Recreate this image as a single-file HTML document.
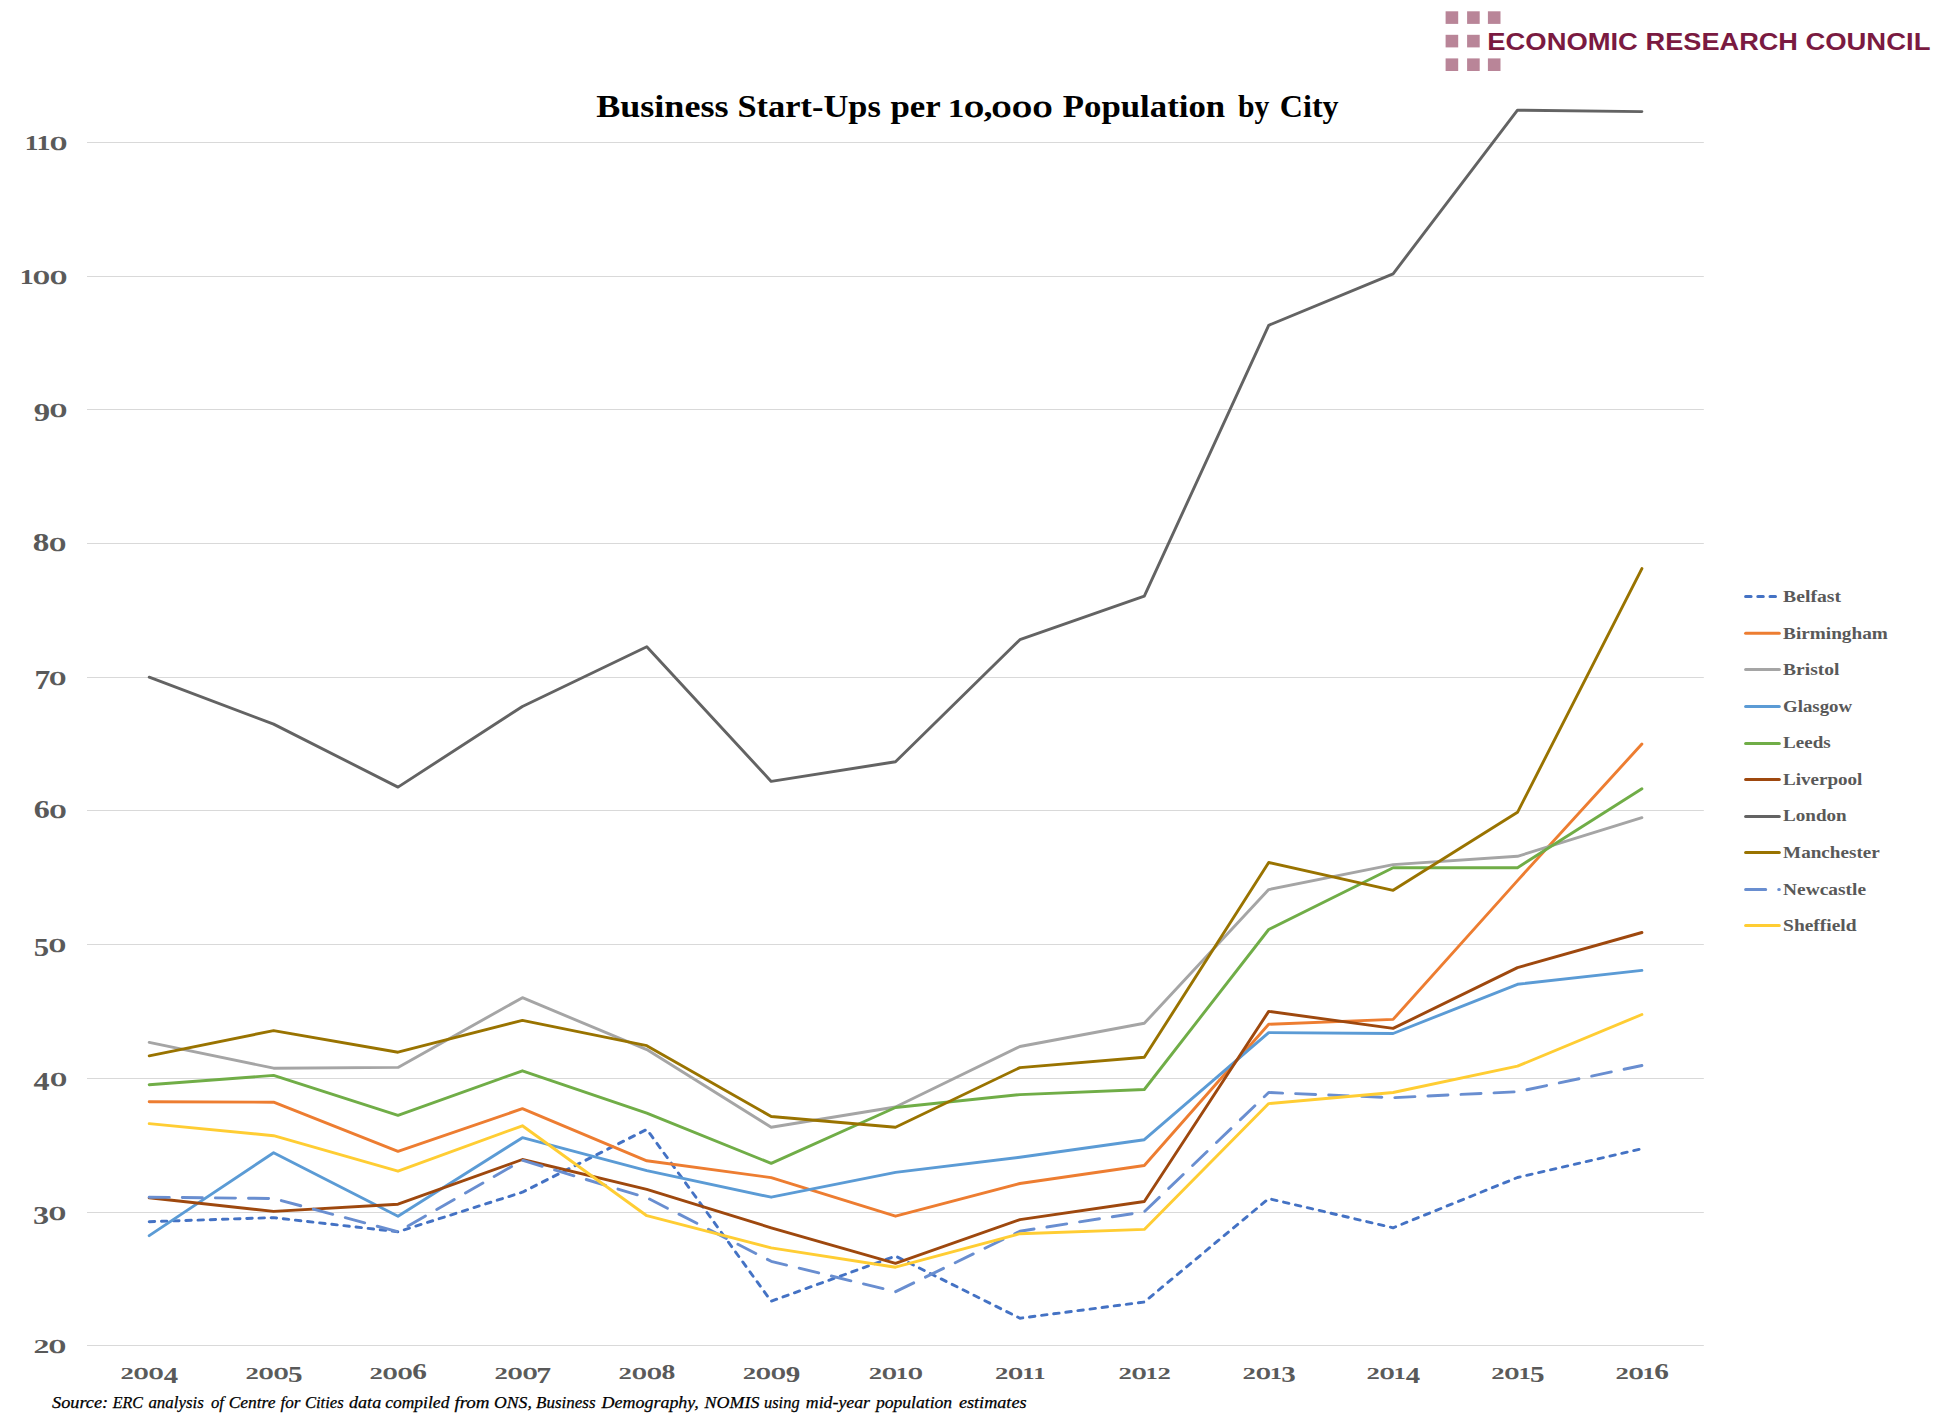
<!DOCTYPE html>
<html lang="en"><head><meta charset="utf-8"><title>Business Start-Ups per 10,000 Population by City</title>
<style>
html,body{margin:0;padding:0;background:#fff;}
body{width:1943px;height:1421px;overflow:hidden;}
svg{display:block;}
.sb{font-family:"Liberation Serif",serif;font-weight:bold;}
.si{font-family:"Liberation Serif",serif;font-style:italic;}
.ax{fill:#595959;stroke:#595959;stroke-width:0;}
.tt{fill:#000;stroke:#000;stroke-width:0;}
.z{font-weight:normal;}
.logo{font-family:"Liberation Sans",sans-serif;font-weight:bold;fill:#7A1A41;}
</style></head><body>
<svg width="1943" height="1421" viewBox="0 0 1943 1421">
<rect width="1943" height="1421" fill="#fff"/>
<g fill="#D9D9D9"><rect x="87.0" y="1345" width="1616.8" height="1"/><rect x="87.0" y="1212" width="1616.8" height="1"/><rect x="87.0" y="1078" width="1616.8" height="1"/><rect x="87.0" y="944" width="1616.8" height="1"/><rect x="87.0" y="810" width="1616.8" height="1"/><rect x="87.0" y="677" width="1616.8" height="1"/><rect x="87.0" y="543" width="1616.8" height="1"/><rect x="87.0" y="409" width="1616.8" height="1"/><rect x="87.0" y="276" width="1616.8" height="1"/><rect x="87.0" y="142" width="1616.8" height="1"/></g>
<g fill="none" stroke-linejoin="round" stroke-linecap="round"><polyline points="149.2,1221.7 273.6,1217.6 398.0,1231.8 522.4,1192.2 646.8,1129.4 771.2,1301.2 895.5,1256.1 1019.9,1318.2 1144.3,1302.0 1268.7,1198.6 1393.1,1227.8 1517.5,1177.5 1641.9,1148.7" stroke="#4472C4" stroke-width="2.9" stroke-dasharray="5.5 6.7"/><polyline points="149.2,1101.7 273.6,1102.2 398.0,1151.4 522.4,1108.7 646.8,1160.8 771.2,1177.6 895.5,1216.2 1019.9,1183.5 1144.3,1165.5 1268.7,1024.3 1393.1,1019.4 1517.5,880.6 1641.9,744.0" stroke="#ED7D31" stroke-width="2.9"/><polyline points="149.2,1042.4 273.6,1068.2 398.0,1067.4 522.4,997.7 646.8,1049.6 771.2,1127.3 895.5,1107.0 1019.9,1046.5 1144.3,1023.3 1268.7,889.6 1393.1,864.6 1517.5,856.3 1641.9,817.7" stroke="#A5A5A5" stroke-width="2.9"/><polyline points="149.2,1235.6 273.6,1152.7 398.0,1216.3 522.4,1137.7 646.8,1170.6 771.2,1197.2 895.5,1172.4 1019.9,1157.2 1144.3,1139.7 1268.7,1032.6 1393.1,1033.5 1517.5,984.3 1641.9,970.4" stroke="#5B9BD5" stroke-width="2.9"/><polyline points="149.2,1084.7 273.6,1075.4 398.0,1115.3 522.4,1070.8 646.8,1113.2 771.2,1163.4 895.5,1107.5 1019.9,1094.6 1144.3,1089.5 1268.7,929.5 1393.1,867.7 1517.5,867.7 1641.9,788.8" stroke="#70AD47" stroke-width="2.9"/><polyline points="149.2,1197.8 273.6,1211.4 398.0,1204.2 522.4,1159.5 646.8,1189.4 771.2,1227.8 895.5,1263.4 1019.9,1219.6 1144.3,1201.5 1268.7,1011.4 1393.1,1028.4 1517.5,967.6 1641.9,932.5" stroke="#9E480E" stroke-width="2.9"/><polyline points="149.2,677.2 273.6,724.1 398.0,787.1 522.4,706.5 646.8,646.7 771.2,781.4 895.5,761.7 1019.9,639.7 1144.3,596.2 1268.7,325.3 1393.1,273.8 1517.5,110.1 1641.9,111.6" stroke="#636363" stroke-width="2.9"/><polyline points="149.2,1055.8 273.6,1030.6 398.0,1052.2 522.4,1020.4 646.8,1045.7 771.2,1116.5 895.5,1127.3 1019.9,1067.6 1144.3,1057.3 1268.7,862.5 1393.1,890.3 1517.5,812.3 1641.9,568.6" stroke="#997300" stroke-width="2.9"/><polyline points="149.2,1197.2 273.6,1198.5 398.0,1231.8 522.4,1160.3 646.8,1197.7 771.2,1261.3 895.5,1291.7 1019.9,1231.2 1144.3,1211.8 1268.7,1092.5 1393.1,1097.7 1517.5,1091.7 1641.9,1065.5" stroke="#698ED0" stroke-width="2.9" stroke-dasharray="20.1 13"/><polyline points="149.2,1123.6 273.6,1135.7 398.0,1171.2 522.4,1125.8 646.8,1215.7 771.2,1247.9 895.5,1267.2 1019.9,1233.7 1144.3,1229.4 1268.7,1103.6 1393.1,1092.5 1517.5,1066.2 1641.9,1014.5" stroke="#FFCD33" stroke-width="2.9"/></g>
<g class="sb ax"><text><tspan x="24.70" y="150.00" font-size="19.95" textLength="13.72" lengthAdjust="spacingAndGlyphs">1</tspan><tspan x="36.56" y="150.00" font-size="19.95" textLength="13.99" lengthAdjust="spacingAndGlyphs">1</tspan><tspan x="50.20" y="149.63" font-size="18.41" textLength="16.59" lengthAdjust="spacingAndGlyphs" class="z" stroke-width="0.74">0</tspan></text><text><tspan x="19.66" y="284.00" font-size="19.95" textLength="13.99" lengthAdjust="spacingAndGlyphs">1</tspan><tspan x="33.21" y="283.63" font-size="18.41" textLength="16.27" lengthAdjust="spacingAndGlyphs" class="z" stroke-width="0.74">0</tspan><tspan x="50.20" y="283.63" font-size="18.41" textLength="16.59" lengthAdjust="spacingAndGlyphs" class="z" stroke-width="0.74">0</tspan></text><text><tspan x="33.72" y="420.82" font-size="25.66" textLength="16.36" lengthAdjust="spacingAndGlyphs">9</tspan><tspan x="49.99" y="416.63" font-size="18.41" textLength="16.81" lengthAdjust="spacingAndGlyphs" class="z" stroke-width="0.74">0</tspan></text><text><tspan x="32.81" y="551.00" font-size="25.54" textLength="16.59" lengthAdjust="spacingAndGlyphs">8</tspan><tspan x="49.41" y="550.63" font-size="18.41" textLength="16.27" lengthAdjust="spacingAndGlyphs" class="z" stroke-width="0.74">0</tspan></text><text><tspan x="34.50" y="689.08" font-size="26.32" textLength="15.75" lengthAdjust="spacingAndGlyphs">7</tspan><tspan x="49.51" y="684.63" font-size="18.41" textLength="16.38" lengthAdjust="spacingAndGlyphs" class="z" stroke-width="0.74">0</tspan></text><text><tspan x="33.81" y="818.00" font-size="25.66" textLength="16.02" lengthAdjust="spacingAndGlyphs">6</tspan><tspan x="49.81" y="817.63" font-size="18.41" textLength="16.38" lengthAdjust="spacingAndGlyphs" class="z" stroke-width="0.74">0</tspan></text><text><tspan x="33.87" y="955.82" font-size="25.93" textLength="15.37" lengthAdjust="spacingAndGlyphs">5</tspan><tspan x="49.10" y="951.63" font-size="18.41" textLength="16.70" lengthAdjust="spacingAndGlyphs" class="z" stroke-width="0.74">0</tspan></text><text><tspan x="33.55" y="1090.08" font-size="26.20" textLength="16.06" lengthAdjust="spacingAndGlyphs">4</tspan><tspan x="50.42" y="1085.63" font-size="18.41" textLength="16.16" lengthAdjust="spacingAndGlyphs" class="z" stroke-width="0.74">0</tspan></text><text><tspan x="33.07" y="1223.82" font-size="25.66" textLength="16.12" lengthAdjust="spacingAndGlyphs">3</tspan><tspan x="49.10" y="1219.63" font-size="18.41" textLength="16.70" lengthAdjust="spacingAndGlyphs" class="z" stroke-width="0.74">0</tspan></text><text><tspan x="33.56" y="1353.00" font-size="19.89" textLength="15.90" lengthAdjust="spacingAndGlyphs">2</tspan><tspan x="49.10" y="1352.63" font-size="18.41" textLength="16.70" lengthAdjust="spacingAndGlyphs" class="z" stroke-width="0.74">0</tspan></text></g>
<g class="sb ax"><text><tspan x="120.58" y="1379.10" font-size="17.07" textLength="13.37" lengthAdjust="spacingAndGlyphs">2</tspan><tspan x="134.09" y="1378.78" font-size="15.80" textLength="14.22" lengthAdjust="spacingAndGlyphs" class="z" stroke-width="0.63">0</tspan><tspan x="149.09" y="1378.78" font-size="15.80" textLength="14.22" lengthAdjust="spacingAndGlyphs" class="z" stroke-width="0.63">0</tspan><tspan x="163.85" y="1382.60" font-size="22.49" textLength="14.35" lengthAdjust="spacingAndGlyphs">4</tspan></text><text><tspan x="245.42" y="1379.10" font-size="17.07" textLength="13.37" lengthAdjust="spacingAndGlyphs">2</tspan><tspan x="258.93" y="1378.78" font-size="15.80" textLength="14.22" lengthAdjust="spacingAndGlyphs" class="z" stroke-width="0.63">0</tspan><tspan x="273.93" y="1378.78" font-size="15.80" textLength="14.22" lengthAdjust="spacingAndGlyphs" class="z" stroke-width="0.63">0</tspan><tspan x="288.03" y="1382.38" font-size="22.26" textLength="14.54" lengthAdjust="spacingAndGlyphs">5</tspan></text><text><tspan x="369.61" y="1379.10" font-size="17.07" textLength="13.37" lengthAdjust="spacingAndGlyphs">2</tspan><tspan x="383.12" y="1378.78" font-size="15.80" textLength="14.22" lengthAdjust="spacingAndGlyphs" class="z" stroke-width="0.63">0</tspan><tspan x="398.12" y="1378.78" font-size="15.80" textLength="14.22" lengthAdjust="spacingAndGlyphs" class="z" stroke-width="0.63">0</tspan><tspan x="412.33" y="1379.10" font-size="22.02" textLength="14.65" lengthAdjust="spacingAndGlyphs">6</tspan></text><text><tspan x="494.50" y="1379.10" font-size="17.07" textLength="13.37" lengthAdjust="spacingAndGlyphs">2</tspan><tspan x="508.01" y="1378.78" font-size="15.80" textLength="14.22" lengthAdjust="spacingAndGlyphs" class="z" stroke-width="0.63">0</tspan><tspan x="523.01" y="1378.78" font-size="15.80" textLength="14.22" lengthAdjust="spacingAndGlyphs" class="z" stroke-width="0.63">0</tspan><tspan x="536.23" y="1382.60" font-size="22.60" textLength="14.80" lengthAdjust="spacingAndGlyphs">7</tspan></text><text><tspan x="618.64" y="1379.10" font-size="17.07" textLength="13.37" lengthAdjust="spacingAndGlyphs">2</tspan><tspan x="632.15" y="1378.78" font-size="15.80" textLength="14.22" lengthAdjust="spacingAndGlyphs" class="z" stroke-width="0.63">0</tspan><tspan x="647.15" y="1378.78" font-size="15.80" textLength="14.22" lengthAdjust="spacingAndGlyphs" class="z" stroke-width="0.63">0</tspan><tspan x="661.60" y="1379.10" font-size="21.93" textLength="13.82" lengthAdjust="spacingAndGlyphs">8</tspan></text><text><tspan x="742.88" y="1379.10" font-size="17.07" textLength="13.37" lengthAdjust="spacingAndGlyphs">2</tspan><tspan x="756.39" y="1378.78" font-size="15.80" textLength="14.22" lengthAdjust="spacingAndGlyphs" class="z" stroke-width="0.63">0</tspan><tspan x="771.39" y="1378.78" font-size="15.80" textLength="14.22" lengthAdjust="spacingAndGlyphs" class="z" stroke-width="0.63">0</tspan><tspan x="785.77" y="1382.38" font-size="22.02" textLength="14.53" lengthAdjust="spacingAndGlyphs">9</tspan></text><text><tspan x="868.67" y="1379.10" font-size="17.07" textLength="13.37" lengthAdjust="spacingAndGlyphs">2</tspan><tspan x="882.18" y="1378.78" font-size="15.80" textLength="14.22" lengthAdjust="spacingAndGlyphs" class="z" stroke-width="0.63">0</tspan><tspan x="895.76" y="1379.10" font-size="17.12" textLength="12.36" lengthAdjust="spacingAndGlyphs">1</tspan><tspan x="908.18" y="1378.78" font-size="15.80" textLength="14.22" lengthAdjust="spacingAndGlyphs" class="z" stroke-width="0.63">0</tspan></text><text><tspan x="995.06" y="1379.10" font-size="17.07" textLength="13.37" lengthAdjust="spacingAndGlyphs">2</tspan><tspan x="1008.57" y="1378.78" font-size="15.80" textLength="14.22" lengthAdjust="spacingAndGlyphs" class="z" stroke-width="0.63">0</tspan><tspan x="1022.15" y="1379.10" font-size="17.12" textLength="12.36" lengthAdjust="spacingAndGlyphs">1</tspan><tspan x="1033.15" y="1379.10" font-size="17.12" textLength="12.36" lengthAdjust="spacingAndGlyphs">1</tspan></text><text><tspan x="1118.50" y="1379.10" font-size="17.07" textLength="13.37" lengthAdjust="spacingAndGlyphs">2</tspan><tspan x="1132.01" y="1378.78" font-size="15.80" textLength="14.22" lengthAdjust="spacingAndGlyphs" class="z" stroke-width="0.63">0</tspan><tspan x="1145.59" y="1379.10" font-size="17.12" textLength="12.36" lengthAdjust="spacingAndGlyphs">1</tspan><tspan x="1157.40" y="1379.10" font-size="17.07" textLength="13.37" lengthAdjust="spacingAndGlyphs">2</tspan></text><text><tspan x="1242.64" y="1379.10" font-size="17.07" textLength="13.37" lengthAdjust="spacingAndGlyphs">2</tspan><tspan x="1256.15" y="1378.78" font-size="15.80" textLength="14.22" lengthAdjust="spacingAndGlyphs" class="z" stroke-width="0.63">0</tspan><tspan x="1269.73" y="1379.10" font-size="17.12" textLength="12.36" lengthAdjust="spacingAndGlyphs">1</tspan><tspan x="1281.16" y="1382.38" font-size="22.02" textLength="14.49" lengthAdjust="spacingAndGlyphs">3</tspan></text><text><tspan x="1366.48" y="1379.10" font-size="17.07" textLength="13.37" lengthAdjust="spacingAndGlyphs">2</tspan><tspan x="1379.99" y="1378.78" font-size="15.80" textLength="14.22" lengthAdjust="spacingAndGlyphs" class="z" stroke-width="0.63">0</tspan><tspan x="1393.57" y="1379.10" font-size="17.12" textLength="12.36" lengthAdjust="spacingAndGlyphs">1</tspan><tspan x="1405.75" y="1382.60" font-size="22.49" textLength="14.35" lengthAdjust="spacingAndGlyphs">4</tspan></text><text><tspan x="1491.32" y="1379.10" font-size="17.07" textLength="13.37" lengthAdjust="spacingAndGlyphs">2</tspan><tspan x="1504.83" y="1378.78" font-size="15.80" textLength="14.22" lengthAdjust="spacingAndGlyphs" class="z" stroke-width="0.63">0</tspan><tspan x="1518.41" y="1379.10" font-size="17.12" textLength="12.36" lengthAdjust="spacingAndGlyphs">1</tspan><tspan x="1529.93" y="1382.38" font-size="22.26" textLength="14.54" lengthAdjust="spacingAndGlyphs">5</tspan></text><text><tspan x="1615.51" y="1379.10" font-size="17.07" textLength="13.37" lengthAdjust="spacingAndGlyphs">2</tspan><tspan x="1629.02" y="1378.78" font-size="15.80" textLength="14.22" lengthAdjust="spacingAndGlyphs" class="z" stroke-width="0.63">0</tspan><tspan x="1642.60" y="1379.10" font-size="17.12" textLength="12.36" lengthAdjust="spacingAndGlyphs">1</tspan><tspan x="1654.23" y="1379.10" font-size="22.02" textLength="14.65" lengthAdjust="spacingAndGlyphs">6</tspan></text></g>
<text class="sb tt" font-size="32"><tspan x="596.2" y="116.8" textLength="132.3" lengthAdjust="spacingAndGlyphs">Business</tspan> <tspan x="737.4" y="116.8" textLength="143.4" lengthAdjust="spacingAndGlyphs">Start-Ups</tspan> <tspan x="890.4" y="116.8" textLength="49.7" lengthAdjust="spacingAndGlyphs">per</tspan> <tspan x="947.75" y="117.10" font-size="25.00" textLength="16.57" lengthAdjust="spacingAndGlyphs">1</tspan><tspan x="964.42" y="116.64" font-size="23.07" textLength="19.06" lengthAdjust="spacingAndGlyphs" class="z" stroke-width="0.92">0</tspan><tspan x="983.6" y="116.8" font-size="32" textLength="9" lengthAdjust="spacingAndGlyphs">,</tspan><tspan x="992.01" y="116.64" font-size="23.07" textLength="19.06" lengthAdjust="spacingAndGlyphs" class="z" stroke-width="0.92">0</tspan><tspan x="1012.51" y="116.64" font-size="23.07" textLength="19.06" lengthAdjust="spacingAndGlyphs" class="z" stroke-width="0.92">0</tspan><tspan x="1033.01" y="116.64" font-size="23.07" textLength="19.06" lengthAdjust="spacingAndGlyphs" class="z" stroke-width="0.92">0</tspan> <tspan x="1062.8" y="116.8" font-size="32" textLength="162.3" lengthAdjust="spacingAndGlyphs">Population</tspan> <tspan x="1238" y="116.8" font-size="32" textLength="31.4" lengthAdjust="spacingAndGlyphs">by</tspan> <tspan x="1279.8" y="116.8" font-size="32" textLength="58.8" lengthAdjust="spacingAndGlyphs">City</tspan></text>
<g fill="none" stroke-linecap="round"><line x1="1745.6" y1="596.5" x2="1779.3" y2="596.5" stroke="#4472C4" stroke-width="3" stroke-dasharray="5.5 6.7"/><line x1="1745.6" y1="633.2" x2="1779.3" y2="633.2" stroke="#ED7D31" stroke-width="3"/><line x1="1745.6" y1="669.5" x2="1779.3" y2="669.5" stroke="#A5A5A5" stroke-width="3"/><line x1="1745.6" y1="706.5" x2="1779.3" y2="706.5" stroke="#5B9BD5" stroke-width="3"/><line x1="1745.6" y1="743.4" x2="1779.3" y2="743.4" stroke="#70AD47" stroke-width="3"/><line x1="1745.6" y1="779.5" x2="1779.3" y2="779.5" stroke="#9E480E" stroke-width="3"/><line x1="1745.6" y1="816.5" x2="1779.3" y2="816.5" stroke="#636363" stroke-width="3"/><line x1="1745.6" y1="852.6" x2="1779.3" y2="852.6" stroke="#997300" stroke-width="3"/><line x1="1745.6" y1="889.6" x2="1779.3" y2="889.6" stroke="#698ED0" stroke-width="3" stroke-dasharray="20.1 13"/><line x1="1745.6" y1="925.5" x2="1779.3" y2="925.5" stroke="#FFCD33" stroke-width="3"/></g>
<g class="sb ax" font-size="16.2"><text x="1783.1" y="601.8" textLength="57.9" lengthAdjust="spacingAndGlyphs">Belfast</text><text x="1783.1" y="638.8" textLength="104.7" lengthAdjust="spacingAndGlyphs">Birmingham</text><text x="1783.1" y="674.9" textLength="56.3" lengthAdjust="spacingAndGlyphs">Bristol</text><text x="1783.1" y="711.7" textLength="69.0" lengthAdjust="spacingAndGlyphs">Glasgow</text><text x="1783.1" y="747.9" textLength="47.6" lengthAdjust="spacingAndGlyphs">Leeds</text><text x="1783.1" y="784.7" textLength="79.3" lengthAdjust="spacingAndGlyphs">Liverpool</text><text x="1783.1" y="821.3" textLength="63.6" lengthAdjust="spacingAndGlyphs">London</text><text x="1783.1" y="857.9" textLength="96.7" lengthAdjust="spacingAndGlyphs">Manchester</text><text x="1783.1" y="894.7" textLength="82.9" lengthAdjust="spacingAndGlyphs">Newcastle</text><text x="1783.1" y="930.8" textLength="73.5" lengthAdjust="spacingAndGlyphs">Sheffield</text></g>
<text class="si" y="1407.7" font-size="16.5" fill="#000" stroke="#000" stroke-width="0.25"><tspan x="52" textLength="56.2" lengthAdjust="spacingAndGlyphs">Source:</tspan> <tspan x="112.8" textLength="30.2" lengthAdjust="spacingAndGlyphs">ERC</tspan> <tspan x="148.4" textLength="55.4" lengthAdjust="spacingAndGlyphs">analysis</tspan> <tspan x="211.0" textLength="13.0" lengthAdjust="spacingAndGlyphs">of</tspan> <tspan x="228.7" textLength="46.8" lengthAdjust="spacingAndGlyphs">Centre</tspan> <tspan x="280.5" textLength="20.0" lengthAdjust="spacingAndGlyphs">for</tspan> <tspan x="304.9" textLength="38.8" lengthAdjust="spacingAndGlyphs">Cities</tspan> <tspan x="349" textLength="32.2" lengthAdjust="spacingAndGlyphs">data</tspan> <tspan x="385.2" textLength="64.2" lengthAdjust="spacingAndGlyphs">compiled</tspan> <tspan x="454.4" textLength="35.2" lengthAdjust="spacingAndGlyphs">from</tspan> <tspan x="494" textLength="37.8" lengthAdjust="spacingAndGlyphs">ONS,</tspan> <tspan x="536.1" textLength="59.4" lengthAdjust="spacingAndGlyphs">Business</tspan> <tspan x="601.6" textLength="97.2" lengthAdjust="spacingAndGlyphs">Demography,</tspan> <tspan x="704.6" textLength="54.9" lengthAdjust="spacingAndGlyphs">NOMIS</tspan> <tspan x="764" textLength="35.6" lengthAdjust="spacingAndGlyphs">using</tspan> <tspan x="805.8" textLength="64.2" lengthAdjust="spacingAndGlyphs">mid-year</tspan> <tspan x="875.9" textLength="76.3" lengthAdjust="spacingAndGlyphs">population</tspan> <tspan x="958.9" textLength="67.7" lengthAdjust="spacingAndGlyphs">estimates</tspan></text>
<g fill="#B98598"><rect x="1445.6" y="11.3" width="12.6" height="12.6"/><rect x="1467.1" y="11.3" width="12.6" height="12.6"/><rect x="1487.9" y="11.3" width="12.6" height="12.6"/><rect x="1445.6" y="34.8" width="12.6" height="12.6"/><rect x="1467.1" y="34.8" width="12.6" height="12.6"/><rect x="1445.6" y="58.4" width="12.6" height="12.6"/><rect x="1467.1" y="58.4" width="12.6" height="12.6"/><rect x="1487.9" y="58.4" width="12.6" height="12.6"/></g>
<text class="logo" font-size="23.5" y="50.2"><tspan x="1487.3" textLength="150.6" lengthAdjust="spacingAndGlyphs">ECONOMIC</tspan> <tspan x="1645.6" textLength="152.4" lengthAdjust="spacingAndGlyphs">RESEARCH</tspan> <tspan x="1805.4" textLength="125.0" lengthAdjust="spacingAndGlyphs">COUNCIL</tspan></text>
</svg></body></html>
